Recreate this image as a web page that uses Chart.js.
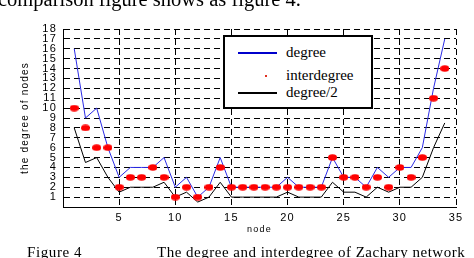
<!DOCTYPE html>
<html>
<head>
<meta charset="utf-8">
<script src="https://cdn.jsdelivr.net/npm/chart.js@4/dist/chart.umd.min.js"></script>
<style>
  html, body { margin:0; padding:0; background:#fff; }
  #wrap { position:relative; width:474px; height:258px; overflow:hidden; background:#fff; }
  #c { position:absolute; left:0; top:0; }
  .serif { font-family:"Liberation Serif","Times New Roman",serif; color:#000; white-space:nowrap; position:absolute; }
  #toptext { left:-2px; top:-11px; font-size:20.5px; line-height:20px; }
  #figlab { left:27px; top:244px; font-size:15px; line-height:16px; letter-spacing:0.6px; }
  #figcap { left:157px; top:244px; font-size:15px; line-height:16px; letter-spacing:0.5px; }
  #legend { position:absolute; left:223px; top:35px; width:146px; height:70px; border:2px solid #000; background:#fff; }
  .row { position:absolute; left:0; font-family:"Liberation Serif","Times New Roman",serif; font-size:15px; line-height:15px; white-space:nowrap; }
  .sample { position:absolute; left:13px; width:39px; }
  .lbl { position:absolute; left:61px; top:-8px; }
</style>
</head>
<body>
<div id="wrap">
  <canvas id="c" width="474" height="258"></canvas>
  <div id="toptext" class="serif">comparison figure shows as figure 4.</div>
  <div id="legend">
    <div class="row" style="top:16px;"><div class="sample" style="top:-1px;height:2px;background:#0000cc;"></div><div class="lbl">degree</div></div>
    <div class="row" style="top:39px;"><div style="position:absolute;left:40px;top:-1px;width:2px;height:2px;background:#e03020;"></div><div class="lbl">interdegree</div></div>
    <div class="row" style="top:56px;"><div class="sample" style="top:-1px;height:2px;background:#000;"></div><div class="lbl">degree/2</div></div>
  </div>
  <div id="figlab" class="serif">Figure 4</div>
  <div id="figcap" class="serif">The degree and interdegree of Zachary network</div>
</div>
<script>
const nodes = [1,2,3,4,5,6,7,8,9,10,11,12,13,14,15,16,17,18,19,20,21,22,23,24,25,26,27,28,29,30,31,32,33,34];
const degree = [16,9,10,6,3,4,4,4,5,2,3,1,2,5,2,2,2,2,2,3,2,2,2,5,3,3,2,4,3,4,4,6,12,17];
const interdegree = [10,8,6,6,2,3,3,4,3,1,2,1,2,4,2,2,2,2,2,2,2,2,2,5,3,3,2,3,2,4,3,5,11,14];
const halfDegree = [8,4.5,5,3,1.5,2,2,2,2.5,1,1.5,0.5,1,2.5,1,1,1,1,1,1.5,1,1,1,2.5,1.5,1.5,1,2,1.5,2,2,3,6,8.5];
const xTicks = [5,10,15,20,25,30,35];
const yTicks = [1,2,3,4,5,6,7,8,9,10,11,12,13,14,15,16,17,18];

const pts = arr => nodes.map((n,i) => ({x:n, y:arr[i]}));

// elliptical red marker
const dot = document.createElement('canvas');
dot.width = 9; dot.height = 7;
{
  const g = dot.getContext('2d');
  g.fillStyle = '#ff0000';
  g.beginPath();
  g.ellipse(4.5, 3.5, 4.5, 3.2, 0, 0, Math.PI*2);
  g.fill();
}

const spacing = {
  id:'spacing',
  beforeDraw(chart){ chart.ctx.letterSpacing = '1.2px'; }
};

new Chart(document.getElementById('c'), {
  type:'scatter',
  data:{
    datasets:[
      { label:'interdegree', data:pts(interdegree), showLine:false, pointStyle:dot, pointRadius:4, order:0 },
      { label:'degree', data:pts(degree), showLine:true, borderColor:'#2a2ae6', borderWidth:1, pointRadius:0, order:1 },
      { label:'degree/2', data:pts(halfDegree), showLine:true, borderColor:'#000', borderWidth:1, pointRadius:0, order:2 }
    ]
  },
  options:{
    responsive:false,
    animation:false,
    events:[],
    layout:{ padding:{ left:0, top:29, right:18, bottom:0 } },
    plugins:{ legend:{display:false}, tooltip:{enabled:false} },
    scales:{
      x:{
        type:'linear', min:0, max:35,
        afterFit(s){ s.height = 51; },
        afterBuildTicks(s){ s.ticks = [0].concat(xTicks).map(v=>({value:v})); },
        ticks:{ color:'#000', font:{family:'"Liberation Sans", Arial, sans-serif', size:11}, padding:4, maxRotation:0, autoSkip:false,
          callback:v => xTicks.includes(v) ? String(v) : '' },
        grid:{ color:'#000', lineWidth:1, drawTicks:false },
        border:{ display:true, color:'#000', width:1, dash:[6,4] },
        title:{ display:true, text:'node', color:'#000', font:{family:'"Liberation Sans", Arial, sans-serif', size:9}, padding:{top:0,bottom:23} }
      },
      y:{
        type:'linear', min:0, max:18,
        afterFit(s){ s.width = 63; },
        afterBuildTicks(s){ s.ticks = [0].concat(yTicks).map(v=>({value:v})); },
        ticks:{ color:'#000', font:{family:'"Liberation Sans", Arial, sans-serif', size:11}, padding:6, autoSkip:false,
          callback:v => yTicks.includes(v) ? String(v) : '' },
        grid:{ color:'#000', lineWidth:1, drawTicks:false },
        border:{ display:true, color:'#000', width:1, dash:[6,4] },
        title:{ display:true, text:'the degree of nodes', color:'#000', font:{family:'"Liberation Sans", Arial, sans-serif', size:10}, padding:{top:19,bottom:0} }
      }
    }
  },
  plugins:[spacing]
});
</script>
</body>
</html>
